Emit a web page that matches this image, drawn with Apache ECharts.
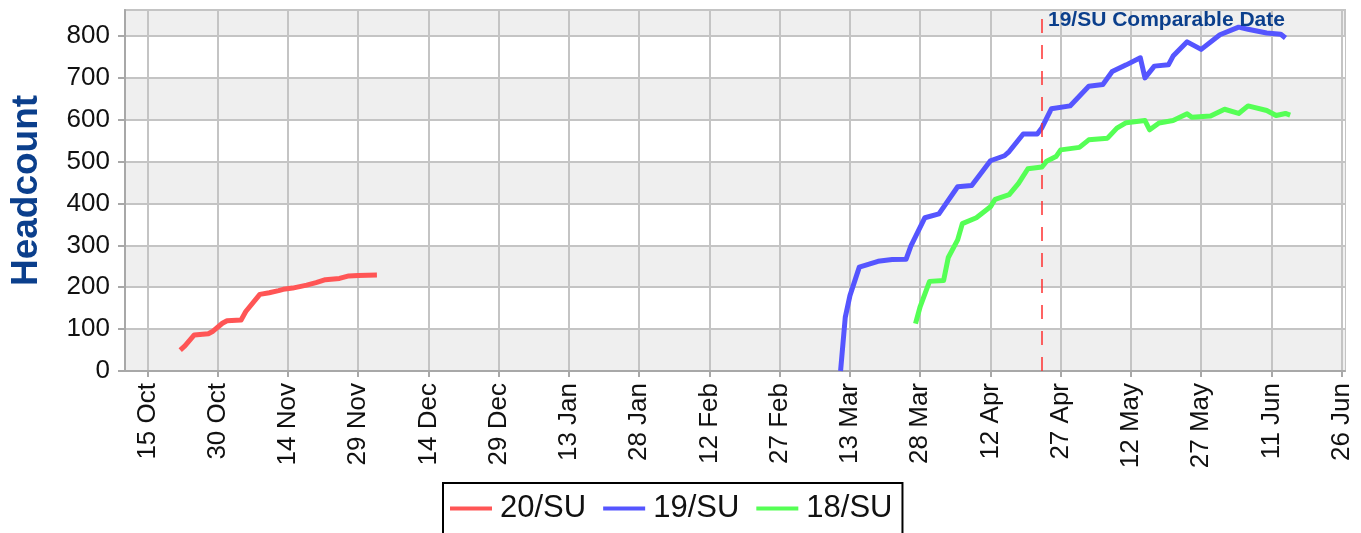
<!DOCTYPE html>
<html>
<head>
<meta charset="utf-8">
<script src="https://cdn.jsdelivr.net/npm/echarts@6/dist/echarts.min.js"></script>
<style>
html,body{margin:0;padding:0;background:#fff;}
#chart{width:1361px;height:533px;}
</style>
</head>
<body>
<div id="chart"></div>
<script>
// ---- data ----
const seriesNames = ['20/SU', '19/SU', '18/SU'];
const su20Dates = ['2019-10-22','2019-10-23','2019-10-25','2019-10-28','2019-10-29','2019-10-31','2019-11-01','2019-11-04','2019-11-05','2019-11-08','2019-11-10','2019-11-12','2019-11-13','2019-11-15','2019-11-18','2019-11-20','2019-11-22','2019-11-25','2019-11-27','2019-11-29','2019-12-03'];
const su20Values = [50,60,86,89,95,114,120,122,142,183,187,192,195,198,205,211,218,221,227,228,229];
const su19Dates = ['2020-03-11','2020-03-12','2020-03-13','2020-03-15','2020-03-19','2020-03-22','2020-03-25','2020-03-26','2020-03-29','2020-04-01','2020-04-05','2020-04-08','2020-04-12','2020-04-15','2020-04-16','2020-04-19','2020-04-22','2020-04-23','2020-04-25','2020-04-29','2020-05-03','2020-05-06','2020-05-08','2020-05-11','2020-05-14','2020-05-15','2020-05-17','2020-05-20','2020-05-21','2020-05-24','2020-05-27','2020-05-31','2020-06-04','2020-06-06','2020-06-10','2020-06-13','2020-06-14'];
const su19Values = [0,128,180,248,262,266,267,298,366,375,440,443,502,514,524,566,566,581,626,633,680,684,715,731,748,700,728,731,752,786,768,803,821,816,807,804,795];
const su18Dates = ['2020-03-27','2020-03-28','2020-03-30','2020-04-02','2020-04-03','2020-04-05','2020-04-06','2020-04-09','2020-04-12','2020-04-13','2020-04-16','2020-04-18','2020-04-20','2020-04-23','2020-04-24','2020-04-26','2020-04-27','2020-05-01','2020-05-03','2020-05-07','2020-05-09','2020-05-11','2020-05-15','2020-05-16','2020-05-18','2020-05-21','2020-05-24','2020-05-25','2020-05-29','2020-06-01','2020-06-04','2020-06-06','2020-06-10','2020-06-12','2020-06-14','2020-06-15'];
const su18Values = [113,154,214,216,271,313,352,366,392,410,421,448,483,487,501,512,528,534,552,556,580,593,598,576,592,598,614,606,609,625,615,633,622,610,615,611];
const xTickDates = ['2019-10-15','2019-10-30','2019-11-14','2019-11-29','2019-12-14','2019-12-29','2020-01-13','2020-01-28','2020-02-12','2020-02-27','2020-03-13','2020-03-28','2020-04-12','2020-04-27','2020-05-12','2020-05-27','2020-06-11','2020-06-26'];
const monthNames = ['Jan','Feb','Mar','Apr','May','Jun','Jul','Aug','Sep','Oct','Nov','Dec'];
const yTickValues = [0,100,200,300,400,500,600,700,800];
const comparableDate = '2020-04-23';
const comparableLabel = '19/SU Comparable Date';
const yAxisTitle = 'Headcount';

// ---- build ----
const FONT = '"Liberation Sans", Arial, sans-serif';
const ts = d => Date.parse(d);
const pairs = (ds, vs) => ds.map((d, i) => [ts(d), vs[i]]);
const colors = ['#ff5555', '#5555ff', '#55ff55'];
const gridColor = '#c4c4c4';

const chart = echarts.init(document.getElementById('chart'), null, {renderer: 'canvas'});

const mkSeries = (name, data, color, extra) => Object.assign({
  name, type: 'line', data, showSymbol: false, symbol: 'none',
  lineStyle: {color, width: 5, join: 'round'}, itemStyle: {color},
  emphasis: {disabled: true}, animation: false
}, extra || {});

chart.setOption({
  animation: false,
  backgroundColor: '#ffffff',
  textStyle: {fontFamily: FONT},
  title: {
    text: comparableLabel, left: 1048, top: 10, padding: 0,
    textStyle: {fontFamily: FONT, fontSize: 21, fontWeight: 'bold', color: '#0b3f8c'}
  },
  grid: {
    left: 121, right: 16, top: 10, bottom: 162,
    show: true, backgroundColor: '#efefef', borderColor: gridColor, borderWidth: 2
  },
  legend: {
    data: seriesNames,
    left: 443, top: 483,
    orient: 'horizontal',
    icon: 'rect', itemWidth: 42, itemHeight: 4, itemGap: 17,
    padding: [10, 10, 40, 7],
    borderColor: '#000', borderWidth: 2, backgroundColor: '#fff',
    textStyle: {fontFamily: FONT, fontSize: 31, color: '#111', padding: [0, 0, 0, 3]}
  },
  xAxis: {
    type: 'value',
    min: Date.UTC(2019, 9, 10, 5),
    max: Date.UTC(2020, 5, 26, 17),
    axisLine: {show: true, lineStyle: {color: '#a8a8a8', width: 2}},
    axisTick: {show: true, length: 6, lineStyle: {color: '#a8a8a8', width: 2}, customValues: xTickDates.map(ts)},
    axisLabel: {
      customValues: xTickDates.map(ts),
      rotate: 90, margin: 12, fontSize: 26, color: '#111', fontFamily: FONT,
      formatter: v => { const d = new Date(v); return d.getUTCDate() + ' ' + monthNames[d.getUTCMonth()]; }
    },
    splitLine: {show: true, lineStyle: {color: gridColor, width: 2}}
  },
  yAxis: {
    type: 'value', min: 0, max: 862, interval: 100,
    name: yAxisTitle, nameLocation: 'middle', nameGap: 80, nameRotate: 90,
    nameTextStyle: {fontFamily: FONT, fontSize: 37, fontWeight: 'bold', color: '#0b3f8c'},
    axisLine: {show: true, lineStyle: {color: '#a8a8a8', width: 2}},
    axisTick: {show: true, length: 7, lineStyle: {color: '#a8a8a8', width: 2}, customValues: yTickValues},
    axisLabel: {
      customValues: yTickValues,
      margin: 15, fontSize: 26, color: '#111', fontFamily: FONT,
      formatter: v => (v % 100 === 0 ? String(v) : '')
    },
    splitLine: {show: true, lineStyle: {color: gridColor, width: 2}},
    splitArea: {show: true, areaStyle: {color: ['#efefef', '#ffffff']}}
  },
  series: [
    mkSeries(seriesNames[0], pairs(su20Dates, su20Values), colors[0]),
    mkSeries(seriesNames[1], pairs(su19Dates, su19Values), colors[1], {
      markLine: {
        silent: true, symbol: 'none', animation: false,
        label: {show: false},
        lineStyle: {color: '#ff3030', type: [14, 12], width: 1.5},
        data: [{xAxis: ts(comparableDate)}]
      }
    }),
    mkSeries(seriesNames[2], pairs(su18Dates, su18Values), colors[2])
  ]
});
</script>
</body>
</html>
